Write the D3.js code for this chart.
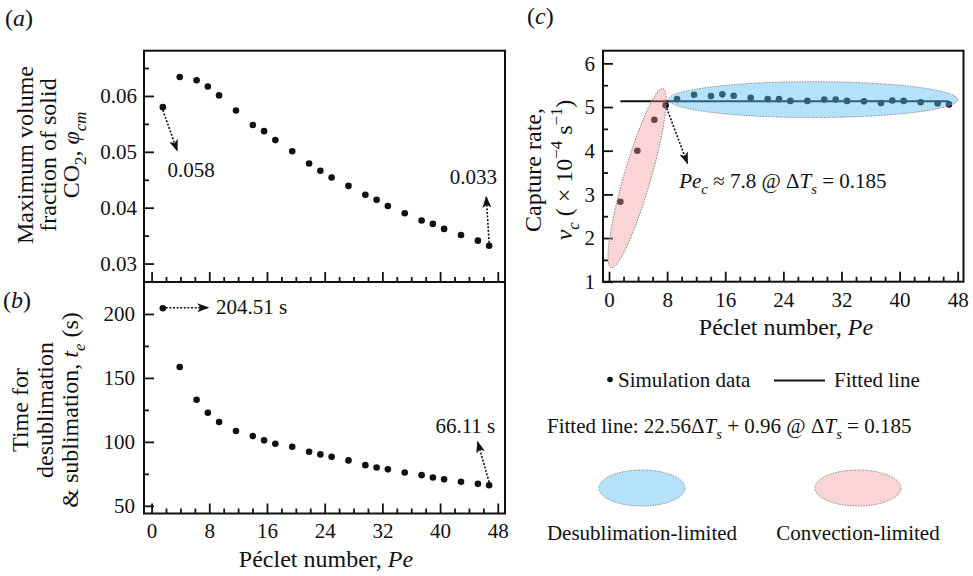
<!DOCTYPE html>
<html>
<head>
<meta charset="utf-8">
<script src="https://cdn.jsdelivr.net/npm/d3@7"></script>
<style>
body { margin: 0; background: #fff; }
svg text { font-family: "Liberation Serif", "Times New Roman", serif; fill: #111; }
</style>
</head>
<body>
<svg id="chart" width="973" height="576"></svg>
<script>
// Peclet numbers of the simulations (same for all three panels)
var pe = [1.56, 3.9, 6.24, 7.8, 9.36, 11.7, 14.04, 15.6, 17.16, 19.5, 21.84, 23.4,
          24.96, 27.3, 29.64, 31.2, 32.76, 35.1, 37.44, 39.0, 40.56, 42.9, 45.24, 46.8];
// (a) maximum volume fraction of solid CO2
var phiCm = [0.058, 0.0634, 0.0628, 0.0617, 0.0601, 0.0574, 0.0548, 0.0537, 0.0521, 0.0501, 0.0479, 0.0466,
             0.0454, 0.0439, 0.0423, 0.0414, 0.0403, 0.0390, 0.0377, 0.0371, 0.0362, 0.0351, 0.0341, 0.0332];
// (b) time for desublimation & sublimation (s)
var tE = [204.51, 158.5, 132.9, 122.8, 115.5, 108.5, 104.5, 101.2, 98.5, 96.2, 92.3, 90.2,
          88.3, 85.5, 81.8, 80.0, 78.5, 76.1, 74.0, 72.2, 70.7, 68.8, 67.2, 66.11];
// (c) capture rate (x 1e-4 1/s)
var vC = [2.83, 4.00, 4.71, 5.04, 5.18, 5.28, 5.25, 5.29, 5.26, 5.21, 5.18, 5.18,
          5.14, 5.14, 5.17, 5.17, 5.14, 5.13, 5.09, 5.15, 5.14, 5.11, 5.08, 5.06];
// fitted line 22.56*dTs + 0.96 at dTs = 0.185, over the simulated Pe range
var fitSlope = 22.56, fitIntercept = 0.96, dTs = 0.185;
var fitRange = [1.56, 46.8];

var xTicks = [0, 8, 16, 24, 32, 40, 48];
var xMinor = [2, 4, 6, 10, 12, 14, 18, 20, 22, 26, 28, 30, 34, 36, 38, 42, 44, 46];
var aTicks = [0.03, 0.04, 0.05, 0.06], aMinor = [0.035, 0.045, 0.055, 0.065];
var bTicks = [50, 100, 150, 200], bMinor = [75, 125, 175];
var cTicks = [1, 2, 3, 4, 5, 6], cMinor = [1.5, 2.5, 3.5, 4.5, 5.5];

var svg = d3.select("#chart");
var fs = 21;

var defs = svg.append("defs");
defs.append("marker")
    .attr("id", "head")
    .attr("markerUnits", "userSpaceOnUse")
    .attr("viewBox", "0 0 12 9")
    .attr("markerWidth", 12).attr("markerHeight", 9)
    .attr("refX", 11).attr("refY", 4.5)
    .attr("orient", "auto")
  .append("path")
    .attr("d", "M0,0 L12,4.5 L0,9 L3,4.5 Z")
    .attr("fill", "#111");

// text with italics / sub / superscripts
function rich(sel, parts, size) {
  var cur = 0;
  parts.forEach(function(p) {
    var t = typeof p === "string" ? {t: p} : p;
    var s = (t.sub || t.sup) ? size * 0.7 : size;
    var shift = t.sub ? size * 0.3 : (t.sup ? -size * 0.4 : 0);
    sel.append("tspan")
        .text(t.t)
        .attr("font-size", s)
        .attr("font-style", t.i ? "italic" : null)
        .attr("dy", shift - cur);
    cur = shift;
  });
  return sel;
}

var xAB = d3.scaleLinear().domain([-1.05, 49]).range([144, 505]);
var yA = d3.scaleLinear().domain([0.0267, 0.0681]).range([282, 50.7]);
var yB = d3.scaleLinear().domain([44, 225]).range([513.5, 282]);
var xC = d3.scaleLinear().domain([-0.83, 48.8]).range([603, 963.5]);
var yC = d3.scaleLinear().domain([1, 6.29]).range([281.7, 50.7]);

function styleAxis(g) {
  g.attr("font-family", null).attr("font-size", fs);
  g.select(".domain").remove();
  g.selectAll("line").attr("stroke", "#111").attr("stroke-width", 1.8);
}

function panel(x, y, yt, ym, yfmt, ypad, xlabels) {
  var x0 = x.range()[0], y0 = y.range()[0];
  var g = svg.append("g");
  g.append("g").attr("transform", "translate(" + x0 + ",0)")
      .call(d3.axisLeft(y).tickValues(ym).tickSize(-5).tickFormat(""))
      .call(styleAxis);
  g.append("g").attr("transform", "translate(" + x0 + ",0)")
      .call(d3.axisLeft(y).tickValues(yt).tickSize(-10).tickPadding(ypad).tickFormat(yfmt))
      .call(styleAxis);
  g.append("g").attr("transform", "translate(0," + y0 + ")")
      .call(d3.axisBottom(x).tickValues(xMinor).tickSize(-5).tickFormat(""))
      .call(styleAxis);
  g.append("g").attr("transform", "translate(0," + y0 + ")")
      .call(d3.axisBottom(x).tickValues(xTicks).tickSize(-10).tickPadding(10)
            .tickFormat(xlabels ? d3.format("d") : ""))
      .call(styleAxis);
  g.append("rect")
      .attr("x", x.range()[0]).attr("y", y.range()[1])
      .attr("width", x.range()[1] - x.range()[0])
      .attr("height", y.range()[0] - y.range()[1])
      .attr("fill", "none").attr("stroke", "#111").attr("stroke-width", 2);
  return g;
}

function dots(x, y, vals) {
  svg.append("g").selectAll("circle")
      .data(pe)
    .join("circle")
      .attr("cx", function(d) { return x(d); })
      .attr("cy", function(d, i) { return y(vals[i]); })
      .attr("r", 3.3)
      .attr("fill", "#111");
}

function arrow(x1, y1, x2, y2) {
  svg.append("line")
      .attr("x1", x1).attr("y1", y1).attr("x2", x2).attr("y2", y2)
      .attr("stroke", "#111").attr("stroke-width", 1.6)
      .attr("stroke-dasharray", "2,1.6")
      .attr("marker-end", "url(#head)");
}

function ytitle(cx, cy, lines, size) {
  lines.forEach(function(l) {
    var t = svg.append("text")
        .attr("transform", "translate(" + l.x + "," + cy + ")rotate(-90)")
        .attr("text-anchor", "middle")
        .attr("font-size", size);
    rich(t, l.parts, size);
  });
}

// ---- panel (a)
panel(xAB, yA, aTicks, aMinor, d3.format(".2f"), 7, false);
dots(xAB, yA, phiCm);
arrow(xAB(pe[0]), yA(phiCm[0]) + 3, xAB(3.55), yA(0.0502));
svg.append("text").attr("x", xAB(2.2)).attr("y", yA(0.0455)).attr("font-size", fs).text("0.058");
arrow(xAB(46.8), yA(0.0332) - 3, xAB(46.4), yA(0.04195));
svg.append("text").attr("x", xAB(44.6)).attr("y", yA(0.0442)).attr("text-anchor", "middle")
    .attr("font-size", fs).text("0.033");

// ---- panel (b)
panel(xAB, yB, bTicks, bMinor, d3.format("d"), 9, true);
dots(xAB, yB, tE);
arrow(xAB(pe[0]) + 3, yB(204.9), xAB(7.86), yB(204.9));
svg.append("text").attr("x", xAB(8.93)).attr("y", yB(200)).attr("font-size", fs).text("204.51 s");
arrow(xAB(46.8), yB(66.11) - 3, xAB(45.2), yB(100.1));
svg.append("text").attr("x", xAB(43.5)).attr("y", yB(107.1)).attr("text-anchor", "middle")
    .attr("font-size", fs).text("66.11 s");

// ---- panel (c)
panel(xC, yC, cTicks, cMinor, d3.format("d"), 8, true);
dots(xC, yC, vC);
var fitV = fitSlope * dTs + fitIntercept;
svg.append("path")
    .datum(fitRange)
    .attr("d", d3.line().x(function(d) { return xC(d); }).y(function() { return yC(fitV); }))
    .attr("stroke", "#111").attr("stroke-width", 2).attr("fill", "none");

var blueFill = "rgb(90,190,245)", redFill = "rgb(245,150,150)";
var blueOp = 0.45, redOp = 0.4;
// desublimation-limited region
svg.append("ellipse")
    .attr("cx", xC(28.1)).attr("cy", yC(5.17))
    .attr("rx", xC(28.1 + 19.9) - xC(28.1)).attr("ry", yC(5.17) - yC(5.58))
    .attr("fill", blueFill).attr("fill-opacity", blueOp)
    .attr("stroke", "#888").attr("stroke-width", 1).attr("stroke-dasharray", "1.5,1.2");
// convection-limited region, between two ends in data space
var rEnd1 = [0.28, 1.32], rEnd2 = [7.45, 5.42];
var px1 = [xC(rEnd1[0]), yC(rEnd1[1])], px2 = [xC(rEnd2[0]), yC(rEnd2[1])];
var rlen = Math.hypot(px2[0] - px1[0], px2[1] - px1[1]) / 2;
var rang = Math.atan2(px2[1] - px1[1], px2[0] - px1[0]) * 180 / Math.PI;
svg.append("ellipse")
    .attr("transform", "translate(" + (px1[0] + px2[0]) / 2 + "," + (px1[1] + px2[1]) / 2 + ")rotate(" + rang + ")")
    .attr("rx", rlen).attr("ry", 13.5)
    .attr("fill", redFill).attr("fill-opacity", redOp)
    .attr("stroke", "#888").attr("stroke-width", 1).attr("stroke-dasharray", "1.5,1.2");

arrow(xC(7.8) + 1, yC(5.04) + 3, xC(10.8), yC(3.71));
rich(svg.append("text").attr("x", xC(9.66)).attr("y", yC(3.15)).attr("font-size", fs),
     [{t: "Pe", i: 1}, {t: "c", i: 1, sub: 1}, " \u2248 7.8 @ \u0394", {t: "T", i: 1}, {t: "s", i: 1, sub: 1}, " = 0.185"], fs);

// ---- panel letters
rich(svg.append("text").attr("x", 5).attr("y", 26).attr("font-size", 24), ["(", {t: "a", i: 1}, ")"], 24);
rich(svg.append("text").attr("x", 3).attr("y", 308).attr("font-size", 24), ["(", {t: "b", i: 1}, ")"], 24);
rich(svg.append("text").attr("x", 527).attr("y", 24).attr("font-size", 24), ["(", {t: "c", i: 1}, ")"], 24);

// ---- axis titles
var ts = 24;
ytitle(0, 155, [
  {x: 33, parts: ["Maximum volume"]},
  {x: 56, parts: ["fraction of solid"]},
  {x: 79, parts: ["CO", {t: "2", sub: 1}, ", ", {t: "\u03c6", i: 1}, {t: "cm", i: 1, sub: 1}]}
], ts);
ytitle(0, 410, [
  {x: 28, parts: ["Time for"]},
  {x: 53, parts: ["desublimation"]},
  {x: 78, parts: ["& sublimation, ", {t: "t", i: 1}, {t: "e", i: 1, sub: 1}, " (s)"]}
], ts);
ytitle(0, 170, [
  {x: 541, parts: ["Capture rate,"]},
  {x: 572, parts: [{t: "\u03bd", i: 1}, {t: "c", i: 1, sub: 1}, " ( \u00d7 10", {t: "\u22124", sup: 1}, " s", {t: "\u22121", sup: 1}, ")"]}
], ts);

rich(svg.append("text").attr("x", 326).attr("y", 567).attr("text-anchor", "middle").attr("font-size", ts),
     ["P\u00e9clet number, ", {t: "Pe", i: 1}], ts);
rich(svg.append("text").attr("x", 786).attr("y", 335).attr("text-anchor", "middle").attr("font-size", ts),
     ["P\u00e9clet number, ", {t: "Pe", i: 1}], ts);

// ---- legend
svg.append("circle").attr("cx", 610).attr("cy", 379.5).attr("r", 2.8).attr("fill", "#111");
svg.append("text").attr("x", 618).attr("y", 387).attr("font-size", fs).text("Simulation data");
svg.append("line").attr("x1", 774).attr("x2", 825).attr("y1", 380.5).attr("y2", 380.5)
    .attr("stroke", "#111").attr("stroke-width", 2);
svg.append("text").attr("x", 834).attr("y", 387).attr("font-size", fs).text("Fitted line");
rich(svg.append("text").attr("x", 547).attr("y", 433).attr("font-size", fs),
     ["Fitted line: 22.56\u0394", {t: "T", i: 1}, {t: "s", i: 1, sub: 1}, " + 0.96 @ \u0394",
      {t: "T", i: 1}, {t: "s", i: 1, sub: 1}, " = 0.185"], fs);

var legReg = [
  {label: "Desublimation-limited", fill: blueFill, op: blueOp, cx: 642},
  {label: "Convection-limited", fill: redFill, op: redOp, cx: 858}
];
legReg.forEach(function(r) {
  svg.append("ellipse").attr("cx", r.cx).attr("cy", 488).attr("rx", 43).attr("ry", 18)
      .attr("fill", r.fill).attr("fill-opacity", r.op)
      .attr("stroke", "#888").attr("stroke-width", 1).attr("stroke-dasharray", "1.5,1.2");
  svg.append("text").attr("x", r.cx).attr("y", 540).attr("text-anchor", "middle")
      .attr("font-size", fs).text(r.label);
});
</script>
</body>
</html>
